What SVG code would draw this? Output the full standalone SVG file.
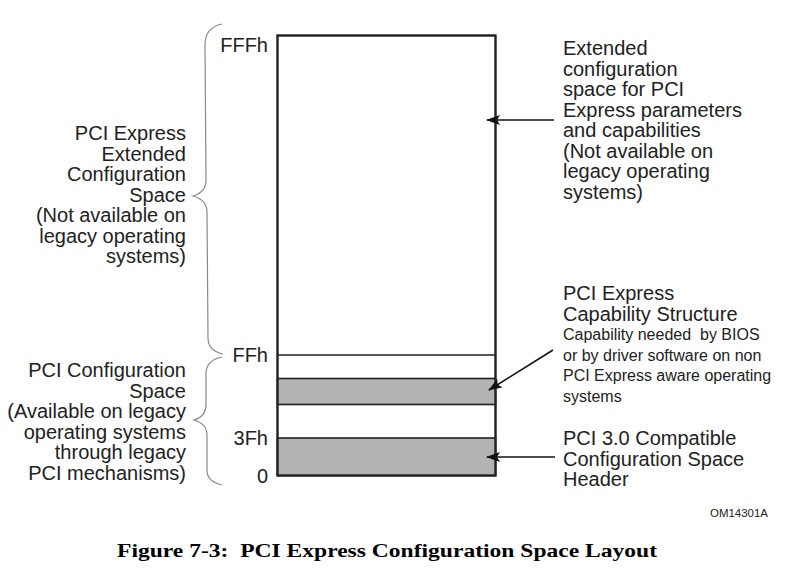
<svg xmlns="http://www.w3.org/2000/svg" width="792" height="577" viewBox="0 0 792 577">
<style>
.t{font-family:"Liberation Sans",Arial,sans-serif;font-size:20px;fill:#222}
.s{font-family:"Liberation Sans",Arial,sans-serif;font-size:16px;fill:#222}
.r{text-anchor:end}
.brace{fill:none;stroke:#8a8a8a;stroke-width:1.2}
.box{stroke:#222;stroke-width:1.6}
.conn{stroke:#111;stroke-width:1.6;fill:none}
</style>
<defs>
<marker id="ah" viewBox="0 0 14 10" refX="13" refY="5" markerWidth="14" markerHeight="10" markerUnits="userSpaceOnUse" orient="auto">
<path d="M0,0 L14,5 L0,10 L3,5 Z" fill="#111"/>
</marker>
</defs>
<rect width="792" height="577" fill="#fff"/>
<g id="memory-map">
<rect x="277.5" y="35.5" width="218" height="440" fill="#fff" class="box"/>
<rect x="277.5" y="378.5" width="218" height="26" fill="#b3b3b3" class="box"/>
<rect x="277.5" y="438" width="218" height="37.5" fill="#b3b3b3" class="box"/>
<line x1="277.5" y1="355" x2="495.5" y2="355" class="box"/>
<rect x="277.5" y="35.5" width="218" height="440" fill="none" stroke="#222" stroke-width="2.2"/>
</g>
<g id="offset-labels">
<text class="t r" x="268" y="52">FFFh</text>
<text class="t r" x="268" y="362">FFh</text>
<text class="t r" x="268" y="445">3Fh</text>
<text class="t r" x="268" y="483">0</text>
</g>
<g id="brace-extended">
<path class="brace" d="M222,24 C212,26 205,32 205,45 L206,180 C206,190 200,194 193,196 C200,198 207,202 207,212 L208,338 C208,348 214,352 223,354"/>
<text class="t r" x="186" y="140">PCI Express</text>
<text class="t r" x="186" y="160.5">Extended</text>
<text class="t r" x="186" y="181">Configuration</text>
<text class="t r" x="186" y="201.5">Space</text>
<text class="t r" x="186" y="222">(Not available on</text>
<text class="t r" x="186" y="242.5">legacy operating</text>
<text class="t r" x="186" y="263">systems)</text>
</g>
<g id="brace-pci">
<path class="brace" d="M222,357 C212,359 206,364 206,374 L206,405 C206,414 201,418 194,420 C201,422 207,426 207,435 L207,470 C207,479 213,483 222,485"/>
<text class="t r" x="186" y="377">PCI Configuration</text>
<text class="t r" x="186" y="397.5">Space</text>
<text class="t r" x="186" y="418">(Available on legacy</text>
<text class="t r" x="186" y="438.5">operating systems </text>
<text class="t r" x="186" y="459">through legacy</text>
<text class="t r" x="186" y="479.5">PCI mechanisms)</text>
</g>
<g id="note-extended">
<text class="t" x="563" y="55">Extended</text>
<text class="t" x="563" y="75.5">configuration</text>
<text class="t" x="563" y="96">space for PCI</text>
<text class="t" x="563" y="116.5">Express parameters</text>
<text class="t" x="563" y="137">and capabilities</text>
<text class="t" x="563" y="157.5">(Not available on</text>
<text class="t" x="563" y="178">legacy operating</text>
<text class="t" x="563" y="198.5">systems)</text>
</g>
<g id="note-capability">
<text class="t" x="563" y="300">PCI Express</text>
<text class="t" x="563" y="320.5">Capability Structure</text>
<text class="s" x="563" y="340" xml:space="preserve">Capability needed  by BIOS</text>
<text class="s" x="563" y="360.5">or by driver software on non</text>
<text class="s" x="563" y="381">PCI Express aware operating</text>
<text class="s" x="563" y="401.5">systems</text>
</g>
<g id="note-header">
<text class="t" x="563" y="445">PCI 3.0 Compatible</text>
<text class="t" x="563" y="465.5">Configuration Space</text>
<text class="t" x="563" y="486">Header</text>
</g>
<g id="connectors">
<line class="conn" x1="554" y1="120" x2="487" y2="120" marker-end="url(#ah)"/>
<line class="conn" x1="553" y1="350" x2="489" y2="390" marker-end="url(#ah)"/>
<line class="conn" x1="555" y1="457" x2="487" y2="457" marker-end="url(#ah)"/>
</g>
<text x="768" y="517" text-anchor="end" font-family="Liberation Sans, Arial, sans-serif" font-size="10" fill="#222" textLength="58" lengthAdjust="spacingAndGlyphs">OM14301A</text>
<text x="117" y="557" font-family="Liberation Serif, Times New Roman, serif" font-size="19" font-weight="bold" fill="#000" textLength="540" lengthAdjust="spacingAndGlyphs" xml:space="preserve">Figure 7-3:  PCI Express Configuration Space Layout</text>
</svg>
